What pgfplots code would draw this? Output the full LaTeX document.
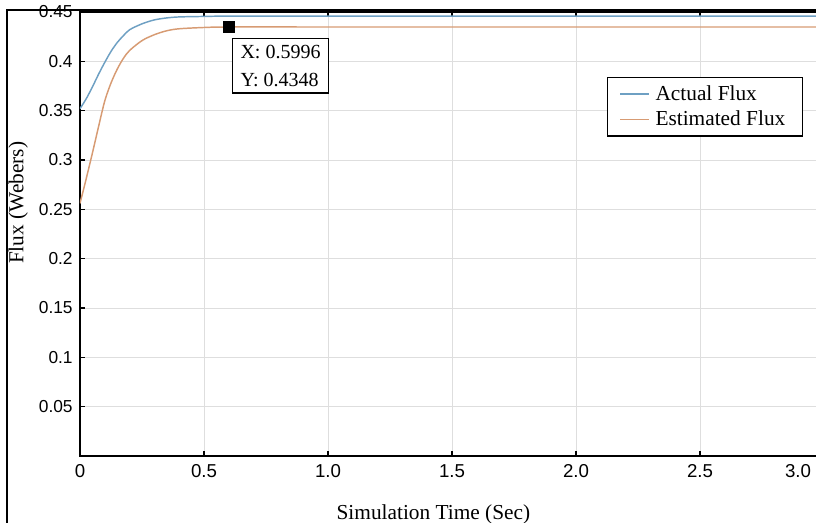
\documentclass[border=0pt]{standalone}
\usepackage{fontspec}
\setmainfont{Liberation Serif}
\newfontfamily\sansf{Liberation Sans}
\usepackage{pgfplots}
\pgfplotsset{compat=1.18}
\definecolor{actual}{RGB}{110,160,195}
\definecolor{estim}{RGB}{215,155,115}
\definecolor{gridc}{RGB}{222,222,222}
\begin{document}
\begin{tikzpicture}
\useasboundingbox (-60pt,-50.25pt) rectangle (552pt,342pt);
\begin{axis}[
 at={(0pt,0pt)}, anchor=south west, scale only axis,
 width=558pt, height=333pt,
 xmin=0, xmax=3, ymin=0, ymax=0.45,
 xtick={0,0.5,1,1.5,2,2.5}, xticklabels={0,0.5,1.0,1.5,2.0,2.5},
 extra x ticks={3}, extra x tick labels={3.0},
 extra x tick style={grid=none, xticklabel style={xshift=-19.5pt}},
 ytick={0.05,0.1,0.15,0.2,0.25,0.3,0.35,0.4,0.45},
 yticklabels={0.05,0.1,0.15,0.2,0.25,0.3,0.35,0.4,0.45},
 grid=major, major grid style={gridc, line width=0.6pt},
 axis line style={line width=1.2pt},
 tick style={black, line width=0.8pt}, major tick length=4pt,
 tick align=inside,
 xticklabel style={font=\sansf\fontsize{14}{16}\selectfont, yshift=-3pt},
 yticklabel style={font=\sansf\fontsize{13}{15}\selectfont, xshift=-2pt},
 xlabel={Simulation Time (Sec)}, ylabel={Flux (Webers)},
 every axis x label/.style={at={(axis description cs:0.475,-0.1320)}, anchor=center, font=\fontsize{16}{19}\selectfont},
 every axis y label/.style={at={(axis description cs:-0.0830,0.57)}, anchor=center, rotate=90, font=\fontsize{16}{19}\selectfont},
 legend style={at={(axis description cs:0.708,0.8536)}, anchor=north west, draw=black, line width=1pt,
   font=\fontsize{16}{19}\selectfont, inner xsep=9pt, inner ysep=4pt, row sep=2.5pt,
   nodes={inner xsep=4pt, inner ysep=2pt}},
 legend cell align=left,
 legend image code/.code={\draw[#1, line width=1.1pt] (0pt,0pt) -- (22pt,0pt);},
]
\addplot[actual, line width=1.1pt, smooth] coordinates {
(0,0.352) (0.025,0.362) (0.05,0.374) (0.075,0.387) (0.1,0.399) (0.125,0.410)
(0.15,0.419) (0.175,0.426) (0.2,0.432) (0.25,0.438) (0.3,0.442) (0.35,0.444)
(0.4,0.445) (0.5,0.4455) (0.6,0.4458) (1.0,0.4458) (2.0,0.4458) (3.0,0.4458)};
\addlegendentry{Actual Flux}
\addplot[estim, line width=1.1pt, smooth] coordinates {
(0,0.256) (0.025,0.281) (0.05,0.307) (0.075,0.334) (0.1,0.360) (0.125,0.378)
(0.15,0.392) (0.175,0.403) (0.2,0.411) (0.25,0.421) (0.3,0.427) (0.35,0.431)
(0.4,0.433) (0.5,0.4343) (0.6,0.4348) (1.0,0.4348) (2.0,0.4348) (3.0,0.4348)};
\addlegendentry{Estimated Flux}
\addplot[only marks, mark=square*, mark size=4.1pt, black, forget plot] coordinates {(0.5996,0.4348)};
\node[draw=black, line width=0.8pt, fill=white, anchor=north west, align=left,
  font=\fontsize{15}{21}\selectfont, inner xsep=6pt, inner ysep=5pt]
  at (axis cs:0.613,0.4241) {X: 0.5996\\Y: 0.4348};
\end{axis}
\draw[line width=1pt] (-54.75pt,-60pt) -- (-54.75pt,334.5pt) -- (560pt,334.5pt);
\end{tikzpicture}
\end{document}
